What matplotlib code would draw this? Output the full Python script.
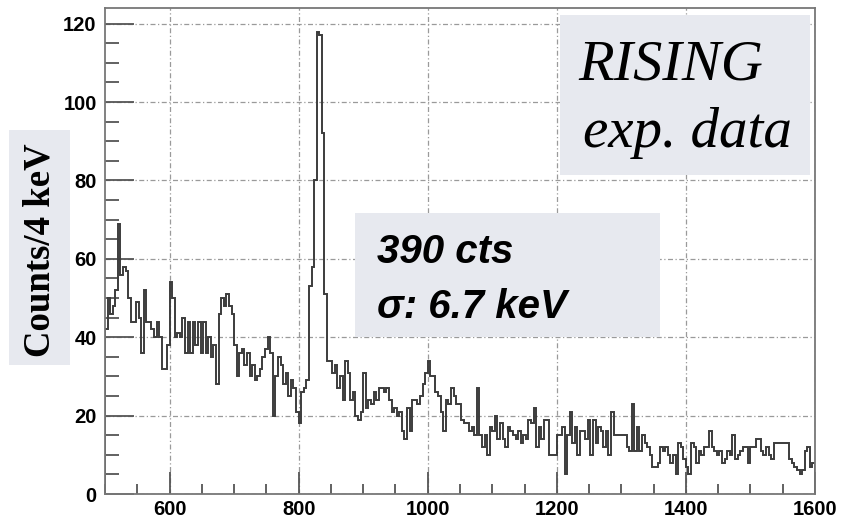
import matplotlib
matplotlib.use('Agg')
import matplotlib.pyplot as plt
from matplotlib.patches import Rectangle
from matplotlib.ticker import MultipleLocator
import numpy as np

# gamma spectrum, 4 keV bins from 500 to 1600 keV
bin_width = 4
e_min, e_max = 500, 1600
counts = [
    # 500-596
    42, 50, 46, 48, 52, 69, 56, 58, 57, 50, 44, 44, 49, 45, 36, 52, 44, 44, 42, 40, 44, 40, 32, 32, 38,
    # 600-696
    54, 50, 40, 41, 40, 45, 36, 44, 36, 44, 38, 44, 36, 44, 36, 40, 35, 38, 28, 46, 50, 48, 51, 48, 46,
    # 700-796
    38, 30, 36, 37, 33, 36, 30, 33, 29, 30, 32, 35, 37, 40, 36, 20, 30, 35, 33, 28, 31, 25, 29, 27, 21,
    # 800-896
    18, 26, 27, 29, 53, 58, 80, 118, 117, 92, 51, 34, 34, 31, 33, 27, 30, 24, 34, 31, 24, 26, 20, 19, 21,
    # 900-996
    31, 22, 24, 23, 26, 24, 27, 27, 26, 27, 24, 21, 22, 20, 21, 16, 14, 22, 16, 24, 24, 23, 25, 28, 31,
    # 1000-1096
    34, 30, 30, 26, 25, 21, 16, 24, 23, 27, 25, 23, 23, 19, 18, 18, 16, 17, 15, 27, 15, 12, 15, 10, 17,
    # 1100-1196
    16, 20, 14, 18, 14, 12, 17, 16, 15, 14, 16, 13, 15, 14, 19, 18, 22, 12, 17, 14, 19, 19, 10, 10, 10,
    # 1200-1296
    15, 15, 17, 5, 15, 21, 13, 17, 10, 16, 16, 14, 19, 10, 19, 13, 17, 16, 12, 16, 10, 21, 15, 15, 15,
    # 1300-1396
    15, 15, 12, 11, 23, 11, 17, 11, 15, 13, 12, 10, 7, 7, 8, 12, 11, 12, 10, 8, 10, 5, 13, 12, 9,
    # 1400-1496
    7, 5, 13, 12, 8, 11, 10, 12, 12, 16, 12, 11, 10, 11, 8, 9, 11, 10, 15, 9, 10, 11, 12, 12, 8,
    # 1500-1596
    12, 12, 14, 14, 11, 10, 12, 10, 9, 13, 13, 13, 13, 13, 13, 9, 8, 7, 6, 5, 6, 11, 12, 7, 8,
]
edges = np.arange(e_min, e_max + bin_width, bin_width)

x_ticks = [600, 800, 1000, 1200, 1400, 1600]
y_ticks = [0, 20, 40, 60, 80, 100, 120]

W, H = 841, 520
fig = plt.figure(figsize=(W / 100, H / 100), dpi=100)
ax = fig.add_axes([105 / W, 1 - 494 / H, 710 / W, 486 / H])


def fig_box(x0, y0, x1, y1, color='#e7e9ef'):
    # rectangle given in pixel coords measured from the top-left corner
    fig.patches.append(Rectangle((x0 / W, 1 - y1 / H), (x1 - x0) / W, (y1 - y0) / H,
                                 transform=fig.transFigure, facecolor=color,
                                 edgecolor='none', zorder=3))


ax.stairs(counts, edges, color='#3c3c3c', lw=1.4, zorder=2)

ax.set_xlim(e_min, e_max)
ax.set_ylim(0, 124)
ax.set_xticks(x_ticks)
ax.set_yticks(y_ticks)
ax.xaxis.set_minor_locator(MultipleLocator(50))
ax.yaxis.set_minor_locator(MultipleLocator(5))
ax.tick_params(axis='both', which='major', direction='in', colors='#555555',
               labelcolor='black', width=1.3)
ax.tick_params(axis='y', which='major', length=21)
ax.tick_params(axis='x', which='major', length=16)
ax.tick_params(axis='y', which='minor', direction='in', length=10, width=1.3, colors='#555555')
ax.tick_params(axis='x', which='minor', direction='in', length=7, width=1.3, colors='#555555')
for lab in ax.get_xticklabels() + ax.get_yticklabels():
    lab.set_fontfamily('Liberation Sans')
    lab.set_fontweight('bold')
    lab.set_fontsize(14.5)
ax.tick_params(axis='x', pad=4)
ax.tick_params(axis='y', pad=6)

ax.grid(True, which='major', color='#9a9a9a', lw=0.9, linestyle=(0, (4, 2, 1, 2)))
for sp in ax.spines.values():
    sp.set_color('#777777')
    sp.set_linewidth(1.3)

# y-axis title on a shaded panel
fig_box(9, 130, 70, 365)
fig.text(40 / W, 1 - 250 / H, 'Counts/4 keV', rotation=90, ha='center', va='center',
         family='Liberation Serif', weight='bold', fontsize=26.5, zorder=4)

# experiment tag
fig_box(560, 15, 810, 175)
fig.text(578 / W, 1 - 80 / H, 'RISING', family='Liberation Serif', style='italic',
         fontsize=42, ha='left', va='baseline', zorder=4)
fig.text(583 / W, 1 - 147 / H, 'exp. data', family='Liberation Serif', style='italic',
         fontsize=41, ha='left', va='baseline', zorder=4)

# peak summary
fig_box(355, 213, 660, 337)
fig.text(377 / W, 1 - 263 / H, '390 cts', family='Liberation Sans', style='italic',
         weight='bold', fontsize=29, ha='left', va='baseline', zorder=4)
fig.text(377 / W, 1 - 318 / H, 'σ: 6.7 keV', family='Liberation Sans', style='italic',
         weight='bold', fontsize=29, ha='left', va='baseline', zorder=4)

fig.savefig('out.png', dpi=100)
